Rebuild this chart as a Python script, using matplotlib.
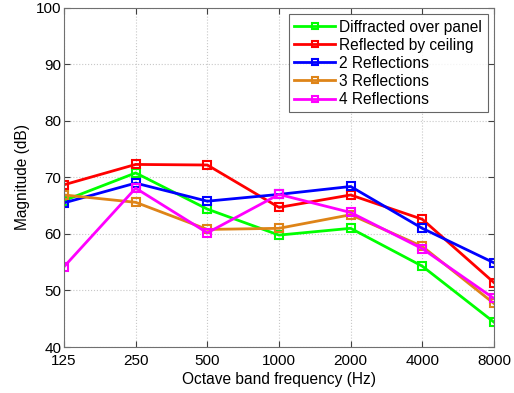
import matplotlib
matplotlib.use("Agg")
import matplotlib.pyplot as plt

plt.rcParams['font.family'] = ['Liberation Sans', 'DejaVu Sans']

freqs = ["125", "250", "500", "1000", "2000", "4000", "8000"]
diffracted = [65.9, 70.8, 64.4, 59.8, 61.0, 54.3, 44.4]
ceiling = [68.7, 72.3, 72.2, 64.7, 66.9, 62.6, 51.4]
refl2 = [65.5, 69.0, 65.8, 67.0, 68.4, 61.0, 54.9]
refl3 = [66.9, 65.6, 60.8, 61.0, 63.4, 57.8, 47.7]
refl4 = [54.2, 68.1, 60.2, 67.0, 63.8, 57.4, 48.6]

series = [
    ("Diffracted over panel", diffracted, "#00ff00"),
    ("Reflected by ceiling", ceiling, "#ff0000"),
    ("2 Reflections", refl2, "#0000ff"),
    ("3 Reflections", refl3, "#de8418"),
    ("4 Reflections", refl4, "#ff00ff"),
]

fig = plt.figure(figsize=(5.14, 3.93), dpi=100)
ax = fig.add_axes([0.1245, 0.117, 0.8365, 0.863])

x = list(range(len(freqs)))
for label, vals, color in series:
    ax.plot(x, vals, color=color, lw=2, marker='s', markersize=6,
            markerfacecolor='none', markeredgewidth=1.5, label=label)

ax.set_xlim(0, len(freqs) - 1)
ax.set_ylim(40, 100)
ax.set_xticks(x)
ax.set_xticklabels(freqs)
ax.set_yticks(range(40, 101, 10))
ax.tick_params(direction='in', labelsize=11, colors='#404040', labelcolor='black',
               length=4, top=True, right=True)
ax.tick_params(axis='x', pad=5)
ax.tick_params(axis='y', pad=2)
for s in ax.spines.values():
    s.set_color('#707070')
ax.grid(True, linestyle=':', color='#c8c8c8', lw=0.8)
ax.set_xlabel("Octave band frequency (Hz)", fontsize=11.2, labelpad=3)
ax.set_ylabel("Magnitude (dB)", fontsize=11.2, labelpad=4)

leg = ax.legend(loc='upper right', fontsize=11.2, frameon=True, fancybox=False,
                edgecolor='#404040', borderpad=0.35, labelspacing=0.2,
                handlelength=2.6, handletextpad=0.3, borderaxespad=0.4)
leg.get_frame().set_linewidth(0.8)
for h in leg.legend_handles:
    h.set_markersize(4)

fig.savefig("out.png", dpi=100)
